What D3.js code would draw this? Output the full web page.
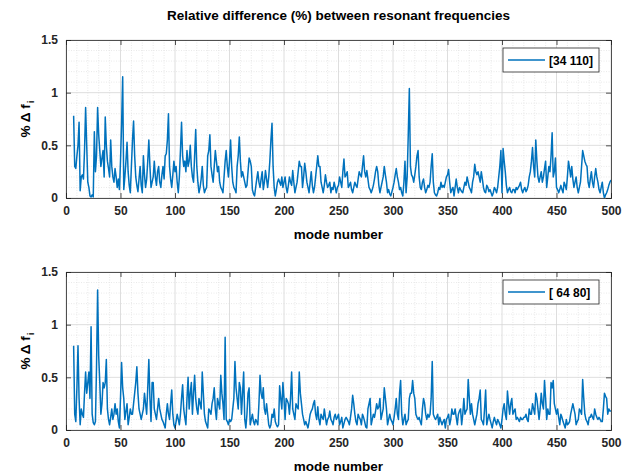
<!DOCTYPE html>
<html><head><meta charset="utf-8">
<script src="https://cdn.jsdelivr.net/npm/d3@7"></script>
<style>body{margin:0;background:#fff}text{font-family:"Liberation Sans",Arial,sans-serif}</style>
</head><body><svg id="c" width="628" height="474"></svg>
<script>
const titleText = "Relative difference (%) between resonant frequencies";
const xLabel = "mode number";
const firstMode = 7;
const xTicks = [0,50,100,150,200,250,300,350,400,450,500];
const yTicks = [0,0.5,1,1.5];
const yTickLabels = ["0","0.5","1","1.5"];
const legendLabels = ["[34 110]", "[ 64 80]"];

// modes 7..500
const seriesA = [
0.78,0.30,0.28,0.40,
0.50,0.72,0.07,0.20,0.22,0.18,0.45,0.86,0.50,0.15,
0.10,0.02,0.01,0.03,0.01,0.63,0.25,0.40,0.86,0.60,
0.45,0.30,0.38,0.45,0.20,0.77,0.50,0.35,0.28,0.20,
0.55,0.30,0.20,0.15,0.28,0.20,0.10,0.18,0.08,0.35,
0.70,1.15,0.08,0.20,0.35,0.53,0.25,0.12,0.05,0.30,
0.55,0.73,0.40,0.20,0.12,0.06,0.18,0.30,0.12,0.05,
0.40,0.22,0.10,0.18,0.35,0.55,0.30,0.10,0.15,0.20,
0.35,0.20,0.12,0.25,0.30,0.15,0.10,0.22,0.30,0.18,
0.40,0.42,0.55,0.80,0.30,0.18,0.10,0.22,0.35,0.25,
0.30,0.15,0.05,0.20,0.45,0.72,0.40,0.30,0.35,0.25,
0.45,0.30,0.35,0.50,0.30,0.20,0.15,0.40,0.65,0.30,
0.15,0.05,0.10,0.18,0.30,0.12,0.05,0.08,0.10,0.40,
0.45,0.60,0.30,0.22,0.15,0.30,0.45,0.35,0.25,0.30,
0.15,0.10,0.08,0.05,0.20,0.35,0.45,0.30,0.20,0.35,
0.55,0.30,0.15,0.10,0.08,0.05,0.30,0.40,0.58,0.35,
0.20,0.25,0.20,0.15,0.10,0.12,0.25,0.38,0.35,0.30,
0.08,0.04,0.02,0.10,0.18,0.25,0.15,0.10,0.18,0.25,
0.08,0.15,0.26,0.18,0.10,0.20,0.35,0.55,0.71,0.30,
0.10,0.02,0.08,0.15,0.18,0.15,0.12,0.20,0.10,0.15,
0.20,0.10,0.05,0.12,0.20,0.15,0.12,0.26,0.15,0.05,
0.10,0.15,0.25,0.35,0.30,0.30,0.10,0.20,0.33,0.25,
0.15,0.10,0.05,0.15,0.25,0.12,0.05,0.10,0.20,0.30,
0.40,0.30,0.30,0.15,0.10,0.05,0.12,0.22,0.15,0.10,
0.12,0.15,0.05,0.10,0.08,0.15,0.10,0.05,0.10,0.12,
0.20,0.15,0.10,0.25,0.37,0.20,0.22,0.25,0.10,0.12,
0.15,0.08,0.05,0.10,0.15,0.12,0.10,0.18,0.25,0.22,
0.20,0.30,0.40,0.25,0.20,0.26,0.18,0.10,0.08,0.05,
0.08,0.12,0.18,0.25,0.30,0.25,0.12,0.05,0.10,0.15,
0.20,0.30,0.22,0.15,0.05,0.08,0.04,0.02,0.06,0.10,
0.15,0.22,0.28,0.20,0.15,0.08,0.10,0.05,0.02,0.15,
0.35,0.05,0.20,0.60,1.04,0.30,0.22,0.20,0.15,0.22,
0.30,0.40,0.45,0.20,0.10,0.08,0.15,0.18,0.10,0.05,
0.08,0.12,0.10,0.15,0.30,0.42,0.15,0.05,0.03,0.02,
0.05,0.10,0.08,0.15,0.10,0.12,0.10,0.15,0.20,0.22,
0.27,0.15,0.05,0.08,0.10,0.02,0.10,0.18,0.10,0.05,
0.10,0.08,0.06,0.05,0.10,0.15,0.12,0.20,0.15,0.10,
0.08,0.05,0.15,0.20,0.32,0.25,0.22,0.25,0.20,0.15,
0.25,0.18,0.10,0.06,0.05,0.12,0.10,0.06,0.08,0.05,
0.02,0.05,0.10,0.08,0.05,0.10,0.20,0.30,0.45,0.05,
0.47,0.35,0.25,0.12,0.05,0.08,0.10,0.06,0.05,0.08,
0.08,0.05,0.10,0.08,0.10,0.12,0.15,0.08,0.05,0.08,
0.10,0.06,0.08,0.12,0.20,0.25,0.35,0.48,0.30,0.20,
0.55,0.35,0.20,0.15,0.20,0.25,0.15,0.20,0.28,0.35,
0.10,0.20,0.30,0.25,0.40,0.62,0.20,0.25,0.38,0.10,
0.08,0.05,0.08,0.12,0.08,0.05,0.15,0.12,0.08,0.20,
0.35,0.28,0.20,0.30,0.18,0.10,0.15,0.20,0.10,0.05,
0.10,0.15,0.30,0.45,0.40,0.35,0.32,0.30,0.15,0.10,
0.18,0.25,0.15,0.10,0.20,0.28,0.20,0.15,0.08,0.05,
0.10,0.15,0.05,0.00,0.03,0.05,0.08,0.12,0.15,0.17
];

const seriesB = [
0.80,0.15,0.08,0.40,
0.80,0.30,0.05,0.20,0.15,0.12,0.35,0.55,0.35,0.45,
0.55,0.30,0.98,0.15,0.07,0.05,0.08,0.60,1.33,0.70,
0.45,0.15,0.25,0.45,0.40,0.45,0.67,0.20,0.10,0.05,
0.12,0.20,0.10,0.15,0.25,0.15,0.20,0.08,0.02,0.30,
0.64,0.40,0.30,0.10,0.18,0.25,0.05,0.12,0.20,0.15,
0.15,0.25,0.35,0.45,0.60,0.35,0.20,0.15,0.10,0.15,
0.20,0.35,0.25,0.15,0.40,0.67,0.30,0.08,0.45,0.45,
0.20,0.15,0.10,0.20,0.30,0.20,0.15,0.10,0.08,0.05,
0.02,0.15,0.25,0.15,0.10,0.25,0.38,0.15,0.05,0.02,
0.08,0.15,0.10,0.05,0.15,0.30,0.43,0.20,0.12,0.05,
0.30,0.50,0.20,0.35,0.45,0.15,0.35,0.52,0.30,0.20,
0.15,0.30,0.25,0.20,0.55,0.35,0.15,0.08,0.05,0.02,
0.20,0.18,0.15,0.25,0.30,0.40,0.20,0.10,0.30,0.25,
0.20,0.52,0.35,0.25,0.10,0.88,0.10,0.08,0.05,0.10,
0.08,0.10,0.20,0.30,0.65,0.40,0.30,0.20,0.45,0.40,
0.15,0.35,0.55,0.10,0.02,0.15,0.35,0.40,0.05,0.10,
0.15,0.08,0.05,0.10,0.08,0.05,0.25,0.52,0.35,0.30,
0.40,0.20,0.15,0.25,0.15,0.05,0.02,0.05,0.15,0.12,
0.20,0.08,0.05,0.03,0.05,0.42,0.30,0.20,0.45,0.30,
0.10,0.30,0.28,0.25,0.15,0.30,0.55,0.20,0.15,0.10,
0.25,0.22,0.20,0.55,0.35,0.25,0.15,0.10,0.05,0.08,
0.05,0.02,0.08,0.15,0.18,0.20,0.25,0.28,0.15,0.10,
0.22,0.10,0.05,0.15,0.12,0.10,0.20,0.12,0.05,0.10,
0.12,0.18,0.10,0.08,0.05,0.12,0.15,0.10,0.12,0.15,
0.05,0.08,0.12,0.02,0.06,0.10,0.12,0.10,0.08,0.05,
0.12,0.20,0.33,0.25,0.15,0.08,0.05,0.15,0.12,0.10,
0.05,0.15,0.12,0.08,0.03,0.02,0.20,0.25,0.30,0.05,
0.10,0.15,0.12,0.18,0.25,0.20,0.22,0.30,0.10,0.15,
0.20,0.40,0.30,0.20,0.05,0.10,0.15,0.10,0.08,0.05,
0.12,0.20,0.30,0.15,0.10,0.35,0.47,0.15,0.05,0.10,
0.15,0.05,0.08,0.10,0.30,0.35,0.35,0.47,0.35,0.30,
0.15,0.12,0.10,0.12,0.08,0.05,0.20,0.30,0.25,0.15,
0.10,0.15,0.12,0.15,0.30,0.65,0.15,0.12,0.10,0.12,
0.15,0.05,0.12,0.08,0.05,0.08,0.10,0.02,0.10,0.12,
0.15,0.05,0.10,0.20,0.15,0.15,0.20,0.12,0.05,0.15,
0.18,0.20,0.05,0.15,0.30,0.15,0.18,0.20,0.48,0.30,
0.15,0.25,0.15,0.10,0.05,0.10,0.15,0.25,0.30,0.38,
0.10,0.08,0.05,0.20,0.38,0.05,0.10,0.15,0.10,0.06,
0.02,0.08,0.12,0.08,0.05,0.10,0.08,0.05,0.02,0.10,
0.20,0.25,0.15,0.10,0.37,0.25,0.15,0.25,0.30,0.15,
0.18,0.20,0.10,0.12,0.10,0.08,0.12,0.10,0.10,0.12,
0.12,0.15,0.10,0.08,0.20,0.15,0.15,0.25,0.20,0.15,
0.35,0.30,0.20,0.10,0.20,0.35,0.25,0.20,0.47,0.30,
0.10,0.20,0.15,0.15,0.45,0.40,0.47,0.25,0.20,0.15,
0.20,0.12,0.05,0.15,0.12,0.08,0.05,0.02,0.10,0.05,
0.06,0.08,0.15,0.20,0.25,0.20,0.15,0.05,0.08,0.10,
0.20,0.18,0.15,0.48,0.30,0.15,0.10,0.08,0.05,0.12,
0.12,0.15,0.12,0.10,0.20,0.15,0.12,0.10,0.12,0.10,
0.08,0.08,0.20,0.35,0.32,0.30,0.15,0.20,0.18,0.18
];

const svg = d3.select("#c");
const lineColor = "#0072BD";
const axisColor = "#262626";
const left = 66, right = 611;
const panels = [
  {top: 40, bottom: 198, data: seriesA, legend: legendLabels[0]},
  {top: 272, bottom: 430, data: seriesB, legend: legendLabels[1]}
];

svg.append("rect").attr("width",628).attr("height",474).attr("fill","#fff");

svg.append("text").attr("x",(left+right)/2).attr("y",20)
  .attr("text-anchor","middle").attr("font-size",13.5).attr("font-weight","bold")
  .attr("fill","#000").text(titleText);

const x = d3.scaleLinear().domain([0,500]).range([left,right]);

panels.forEach((p,pi) => {
  const y = d3.scaleLinear().domain([0,1.5]).range([p.bottom,p.top]);
  const g = svg.append("g");
  const minorX = d3.range(0,501,10).filter(v => v%50 !== 0);
  const minorY = d3.range(0,1.51,0.1).map(v=>+v.toFixed(2)).filter(v => Math.abs(v*2-Math.round(v*2))>1e-6);
  g.selectAll(".mx").data(minorX).enter().append("line")
    .attr("x1",d=>x(d)).attr("x2",d=>x(d)).attr("y1",p.top).attr("y2",p.bottom)
    .attr("stroke","#e0e0e0").attr("stroke-width",0.7).attr("stroke-dasharray","1,1.5");
  g.selectAll(".my").data(minorY).enter().append("line")
    .attr("y1",d=>y(d)).attr("y2",d=>y(d)).attr("x1",left).attr("x2",right)
    .attr("stroke","#e0e0e0").attr("stroke-width",0.7).attr("stroke-dasharray","1,1.5");
  g.selectAll(".gx").data(xTicks).enter().append("line")
    .attr("x1",d=>x(d)).attr("x2",d=>x(d)).attr("y1",p.top).attr("y2",p.bottom)
    .attr("stroke","#d6d6d6").attr("stroke-width",0.8);
  g.selectAll(".gy").data(yTicks).enter().append("line")
    .attr("y1",d=>y(d)).attr("y2",d=>y(d)).attr("x1",left).attr("x2",right)
    .attr("stroke","#d6d6d6").attr("stroke-width",0.8);

  const cid = "clip"+pi;
  svg.append("clipPath").attr("id",cid).append("rect")
    .attr("x",left).attr("y",p.top-2).attr("width",right-left).attr("height",p.bottom-p.top+2);
  const line = d3.line().x((d,i)=>x(firstMode+i)).y(d=>y(d));
  g.append("path").datum(p.data).attr("d",line).attr("clip-path",`url(#${cid})`)
    .attr("fill","none").attr("stroke",lineColor).attr("stroke-width",1.5).attr("stroke-linejoin","round");

  const xAxis = d3.axisBottom(x).tickValues(xTicks).tickSize(-5).tickPadding(8).tickFormat(d3.format("d"));
  const xa = g.append("g").attr("transform",`translate(0,${p.bottom})`).call(xAxis);
  const yAxis = d3.axisLeft(y).tickValues(yTicks).tickSize(-5).tickPadding(8).tickFormat((d,i)=>yTickLabels[i]);
  const ya = g.append("g").attr("transform",`translate(${left},0)`).call(yAxis);
  const xTop = d3.axisTop(x).tickValues(xTicks).tickSize(-5).tickFormat("");
  const xt = g.append("g").attr("transform",`translate(0,${p.top})`).call(xTop);
  const yRight = d3.axisRight(y).tickValues(yTicks).tickSize(-5).tickFormat("");
  const yr = g.append("g").attr("transform",`translate(${right},0)`).call(yRight);
  [xa,ya,xt,yr].forEach(a => {
    a.select(".domain").attr("stroke",axisColor).attr("stroke-width",0.8);
    a.selectAll(".tick line").attr("stroke",axisColor).attr("stroke-width",0.8);
    a.selectAll("text").attr("fill",axisColor).attr("font-size",12)
      .attr("font-family","'Liberation Sans',Arial,sans-serif").attr("font-weight","bold");
  });

  g.append("text").attr("x",(left+right)/2).attr("y",p.bottom+41).attr("text-anchor","middle")
    .attr("font-size",13.5).attr("font-weight","bold").attr("fill","#000").text(xLabel);
  const yl = g.append("text").attr("transform",`translate(30,${(p.top+p.bottom)/2}) rotate(-90)`)
    .attr("text-anchor","middle").attr("font-size",13.5).attr("font-weight","bold").attr("fill","#000");
  yl.append("tspan").text("% \u0394 f");
  yl.append("tspan").attr("font-size",9.5).attr("dy",4).attr("dx",1).text("i");

  const lx = 503, ly = p.top + 8, lw = 96, lh = 24;
  g.append("rect").attr("x",lx).attr("y",ly).attr("width",lw).attr("height",lh)
    .attr("fill","#fff").attr("stroke",axisColor).attr("stroke-width",0.8);
  g.append("line").attr("x1",lx+5).attr("x2",lx+42).attr("y1",ly+lh/2).attr("y2",ly+lh/2)
    .attr("stroke",lineColor).attr("stroke-width",1.5);
  g.append("text").attr("x",lx+46).attr("y",ly+lh/2+4.5).attr("font-size",12)
    .attr("font-weight","bold").attr("fill","#000").text(p.legend);
});
</script></body></html>
